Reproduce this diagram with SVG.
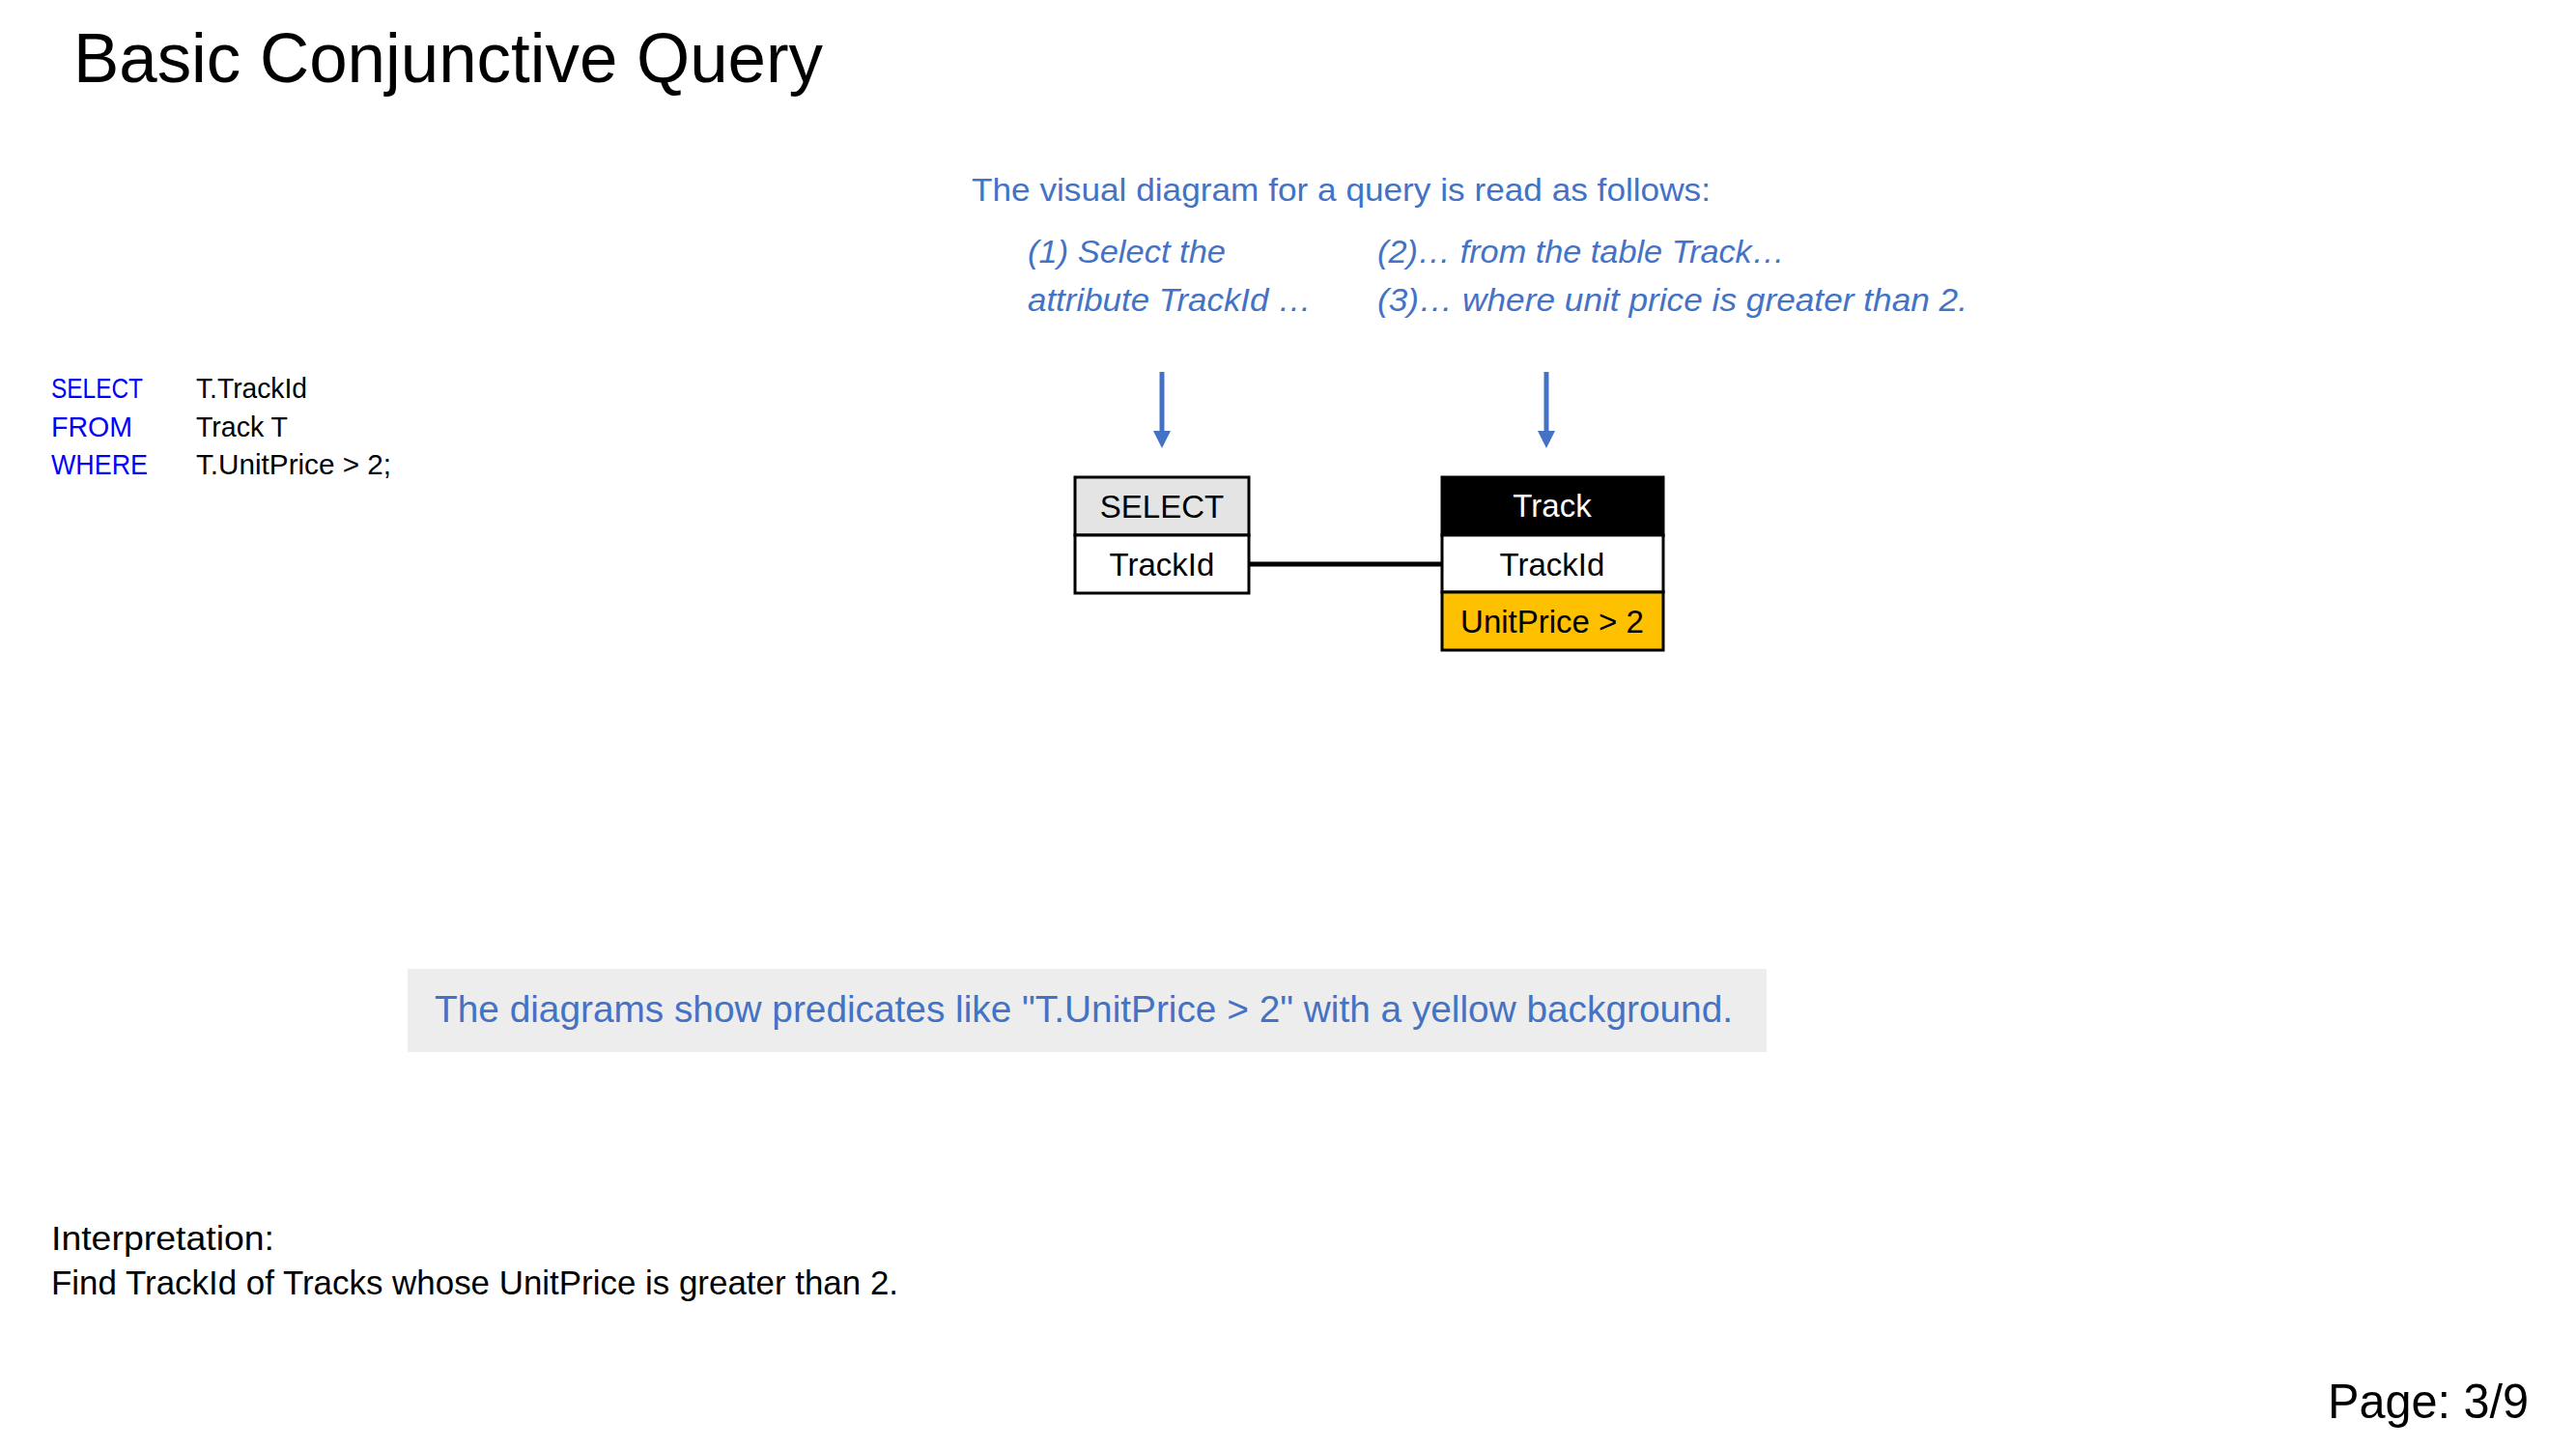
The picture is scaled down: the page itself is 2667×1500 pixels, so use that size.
<svg xmlns="http://www.w3.org/2000/svg" width="2667" height="1500" viewBox="0 0 2667 1500">
  <style>
    .sans { font-family: "Liberation Sans", Arial, sans-serif; }
    .title { font-size: 72px; fill: #000; }
    .sql { font-size: 30px; }
    .kw { fill: #0000FF; }
    .plain { fill: #000; }
    .note { font-size: 34px; fill: #4472C4; }
    .it { font-style: italic; }
    .cell { font-size: 33px; text-anchor: middle; }
    .box { stroke: #000; stroke-width: 3; }
    .banner-text { font-size: 39px; fill: #4472C4; }
    .arrow { stroke: #4472C4; stroke-width: 5; fill: none; }
    .conn { stroke: #000; stroke-width: 5; fill: none; }
  </style>
  <defs>
    <marker id="ah" markerWidth="18" markerHeight="18" viewBox="0 0 18 18" refX="0" refY="9" orient="auto" markerUnits="userSpaceOnUse">
      <path d="M0,0 L18,9 L0,18 z" fill="#4472C4"/>
    </marker>
  </defs>
  <rect x="0" y="0" width="2667" height="1500" fill="#FFFFFF"/>

  <text class="sans title" x="76" y="85" textLength="776" lengthAdjust="spacingAndGlyphs">Basic Conjunctive Query</text>

  <g id="sql" class="sans sql">
    <text class="kw" x="53" y="412" textLength="95" lengthAdjust="spacingAndGlyphs">SELECT</text>
    <text class="plain" x="203" y="412" textLength="115" lengthAdjust="spacingAndGlyphs">T.TrackId</text>
    <text class="kw" x="53" y="452" textLength="84" lengthAdjust="spacingAndGlyphs">FROM</text>
    <text class="plain" x="203" y="452" textLength="95" lengthAdjust="spacingAndGlyphs">Track T</text>
    <text class="kw" x="53" y="491" textLength="100" lengthAdjust="spacingAndGlyphs">WHERE</text>
    <text class="plain" x="203" y="491" textLength="202" lengthAdjust="spacingAndGlyphs">T.UnitPrice &gt; 2;</text>
  </g>

  <g id="notes" class="sans note">
    <text x="1006" y="208" textLength="765" lengthAdjust="spacingAndGlyphs">The visual diagram for a query is read as follows:</text>
    <text class="it" x="1064" y="272" textLength="205" lengthAdjust="spacingAndGlyphs">(1) Select the</text>
    <text class="it" x="1064" y="322" textLength="294" lengthAdjust="spacingAndGlyphs">attribute TrackId …</text>
    <text class="it" x="1426" y="272" textLength="422" lengthAdjust="spacingAndGlyphs">(2)… from the table Track…</text>
    <text class="it" x="1426" y="322" textLength="611" lengthAdjust="spacingAndGlyphs">(3)… where unit price is greater than 2.</text>
  </g>

  <g id="connectors">
    <line class="conn" x1="1293" y1="584" x2="1492" y2="584"/>
    <line class="arrow" x1="1203" y1="385" x2="1203" y2="446" marker-end="url(#ah)"/>
    <line class="arrow" x1="1601" y1="385" x2="1601" y2="446" marker-end="url(#ah)"/>
  </g>

  <g id="node-select">
    <rect class="box" x="1113" y="494" width="180" height="60" fill="#E4E4E4"/>
    <rect class="box" x="1113" y="554" width="180" height="60" fill="#FFFFFF"/>
    <text class="sans cell" x="1203" y="536" fill="#000">SELECT</text>
    <text class="sans cell" x="1203" y="596" fill="#000">TrackId</text>
  </g>

  <g id="node-track">
    <rect class="box" x="1493" y="494" width="229" height="60" fill="#000000"/>
    <rect class="box" x="1493" y="554" width="229" height="59" fill="#FFFFFF"/>
    <rect class="box" x="1493" y="613" width="229" height="60" fill="#FFC000"/>
    <text class="sans cell" x="1607" y="535" fill="#FFFFFF">Track</text>
    <text class="sans cell" x="1607" y="596" fill="#000">TrackId</text>
    <text class="sans cell" x="1607" y="655" fill="#000">UnitPrice &gt; 2</text>
  </g>

  <g id="banner">
    <rect x="422" y="1003" width="1407" height="86" fill="#EDEDED"/>
    <text class="sans banner-text" x="450" y="1058" textLength="1344" lengthAdjust="spacingAndGlyphs">The diagrams show predicates like "T.UnitPrice &gt; 2" with a yellow background.</text>
  </g>

  <g id="interpretation" class="sans" font-size="35" fill="#000">
    <text x="53" y="1294" textLength="231" lengthAdjust="spacingAndGlyphs">Interpretation:</text>
    <text x="53" y="1340" textLength="877" lengthAdjust="spacingAndGlyphs">Find TrackId of Tracks whose UnitPrice is greater than 2.</text>
  </g>

  <text class="sans" x="2410" y="1468" font-size="50" fill="#000" textLength="208" lengthAdjust="spacingAndGlyphs">Page: 3/9</text>
</svg>
